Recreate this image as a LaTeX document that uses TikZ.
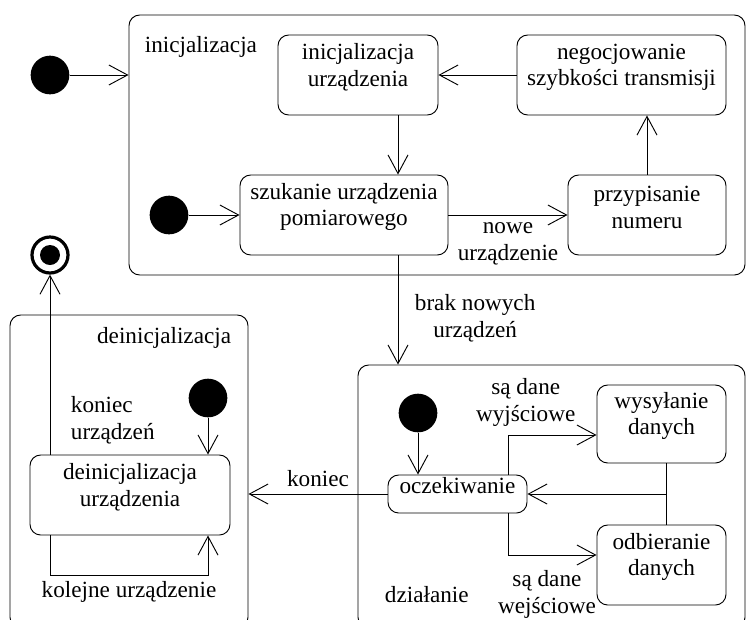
\documentclass[tikz,border=0pt]{standalone}
\usepackage{fontspec}
\setmainfont{LiberationSerif}[Extension=.ttf, UprightFont=*-Regular, BoldFont=*-Bold]
\usetikzlibrary{arrows.meta,fit,calc}

\tikzset{
  region/.style={draw, rounded corners=8pt, inner sep=0pt},
  state/.style={draw, rounded corners=8pt, inner sep=0pt, align=center},
  start/.style={circle, fill, minimum size=29pt, inner sep=0pt},
  stop/.style={circle, draw, line width=2.4pt, minimum size=27pt, inner sep=0pt},
  flow/.style={-{Straight Barb[length=14pt,width=15pt]}},
}

\begin{document}
\begin{tikzpicture}[x=0.75pt, y=-0.75pt, line width=0.7pt,
    font=\fontsize{17.4}{20}\selectfont]
    \useasboundingbox (0,0) rectangle (746,619);
    \clip (0,0) rectangle (746,619);

    % composite states
    \node[region, fit={(129,15) (745,275)}] (ini) {};
    \node[region, fit={(10,315) (248,628)}] (deini) {};
    \node[region, fit={(358,365) (745,628)}] (work) {};
    \node[anchor=west] (ininame) at (140,47) {inicjalizacja};
    \node[anchor=east] (deininame) at (236,338) {deinicjalizacja};
    \node[anchor=west] (workname) at (380,595) {działanie};

    % simple states
    \node[state, fit={(278,35) (438,115)}] (inidev) {inicjalizacja\\urządzenia};
    \node[state, fit={(517,35) (726,115)}] (nego) {negocjowanie\\szybkości transmisji};
    \node[state, fit={(240,175) (448,255)}] (search) {szukanie urządzenia\\pomiarowego};
    \node[state, fit={(568,175) (726,255)}] (assign) {przypisanie\\numeru};
    \node[state, fit={(30,455) (230,535)}] (deinidev) {deinicjalizacja\\urządzenia};
    \node[state, fit={(388,475) (527,513)}] (wait) {oczekiwanie};
    \node[state, fit={(597,385) (726,463)}] (send) {wysyłanie\\danych};
    \node[state, fit={(597,525) (726,605)}] (recv) {odbieranie\\danych};

    % pseudo states
    \node[start] (s0) at (50,75) {};
    \node[start] (s1) at (169,215) {};
    \node[start] (s2) at (208,398) {};
    \node[start] (s3) at (418,413) {};
    \node[stop] (end) at (50,255) {};
    \fill (end) circle [radius=7.5pt];

    \coordinate (down) at (398,0);
    \coordinate (split) at (508,0);
    \coordinate (join) at (666,0);

    % transitions
    \draw[flow] (s0.east) -- (s0 -| ini.west);
    \draw[flow] (s1.east) -- (search);
    \draw[flow] (nego) -- (inidev);
    \draw[flow] (inidev.south -| down) -- (search.north -| down);
    \draw[flow] (search) -- node[below, yshift=-2pt, align=center] {nowe\\urządzenie} (assign);
    \draw[flow] (assign.north) -- (assign.north |- nego.south);
    \draw[flow] (search.south -| down) -- node[right=9pt, yshift=-6pt, align=center] {brak nowych\\urządzeń} (work.north -| down);

    \draw[flow] (s2.south) -- (s2 |- deinidev.north);
    \draw[flow] (deinidev.north -| end) -- node[pos=0.19, right=12pt, align=left] {koniec\\urządzeń} (end);
    \draw[flow] (deinidev.south -| end) -- ++(0,40) -| node[pos=0.25, below, yshift=-1pt] {kolejne urządzenie} (deinidev.south -| s2);

    \draw[flow] (s3.south) -- (s3 |- wait.north);
    \draw[flow] (wait) -- node[above, yshift=2pt] {koniec} (wait -| deini.east);
    \draw[flow] (wait.north -| split) |- node[pos=0.6, above, align=center, yshift=3pt] {są dane\\wyjściowe} ($(send.west)+(0,11)$);
    \draw[flow] (wait.south -| split) |- node[pos=0.72, below, align=center, yshift=-8pt] {są dane\\wejściowe} ($(recv.west)+(0,-10)$);
    \draw (send.south -| join) -- (recv.north -| join);
    \draw[flow] (join |- wait) -- (wait);
\end{tikzpicture}
\end{document}
